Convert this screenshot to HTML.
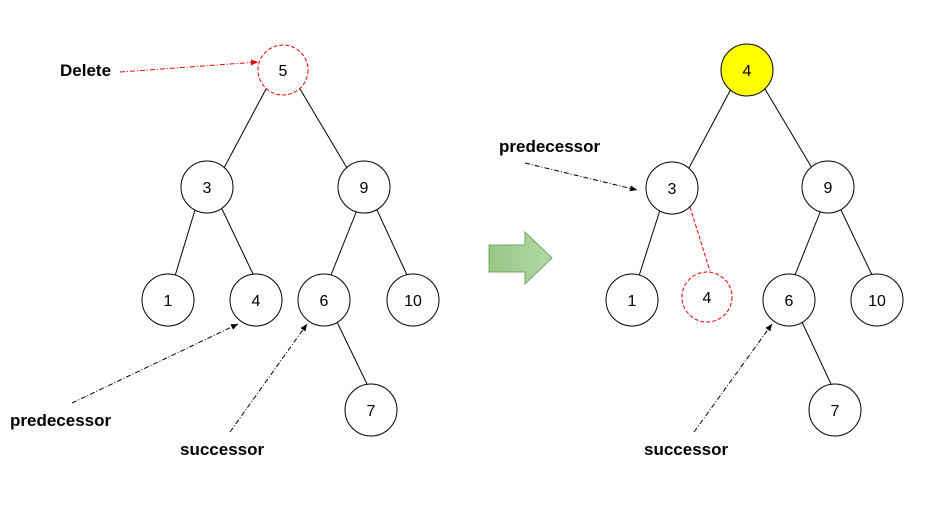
<!DOCTYPE html>
<html><head><meta charset="utf-8"><style>
html,body{margin:0;padding:0;background:#fff;}
svg text{font-family:"Liberation Sans",sans-serif;}
</style></head><body>
<svg width="932" height="508" viewBox="0 0 932 508" xmlns="http://www.w3.org/2000/svg">
<defs>
<marker id="ab" markerWidth="8" markerHeight="8" refX="7" refY="4" orient="auto" markerUnits="userSpaceOnUse"><path d="M0,1 L7,4 L0,7 z" fill="#000"/></marker>
<marker id="ar" markerWidth="8" markerHeight="8" refX="7" refY="4" orient="auto" markerUnits="userSpaceOnUse"><path d="M0,1 L7,4 L0,7 z" fill="#e00"/></marker>
<linearGradient id="g" x1="0" y1="0" x2="1" y2="0"><stop offset="0" stop-color="#97c788"/><stop offset="1" stop-color="#b4d8a6"/></linearGradient>
</defs>
<g stroke="#000" stroke-width="1" fill="none">
<line x1="266" y1="89" x2="224" y2="168"/>
<line x1="300" y1="89" x2="347" y2="168"/>
<line x1="195" y1="210" x2="175" y2="276"/>
<line x1="222" y1="209" x2="253" y2="274"/>
<line x1="357" y1="210" x2="331" y2="275"/>
<line x1="377" y1="210" x2="407" y2="275"/>
<line x1="337" y1="322" x2="367" y2="384"/>
<line x1="731" y1="89" x2="689" y2="168"/>
<line x1="765" y1="89" x2="812" y2="168"/>
<line x1="660" y1="210" x2="639" y2="276"/>
<line x1="821" y1="210" x2="795" y2="275"/>
<line x1="841" y1="210" x2="872" y2="275"/>
<line x1="802" y1="322" x2="831" y2="384"/>
</g>
<line x1="690" y1="207" x2="710" y2="271" stroke="#e00" stroke-dasharray="4,2"/>
<g stroke="#000" fill="#fff">
<circle cx="207" cy="187" r="26"/><circle cx="364" cy="187" r="26"/>
<circle cx="168" cy="300" r="26"/><circle cx="256" cy="300" r="26"/>
<circle cx="324" cy="300" r="26"/><circle cx="413" cy="300" r="26"/>
<circle cx="371" cy="410" r="26"/>
<circle cx="747" cy="70" r="26" fill="#ffff00"/>
<circle cx="672" cy="188" r="26"/><circle cx="828" cy="187" r="26"/>
<circle cx="632" cy="300" r="26"/>
<circle cx="789" cy="300" r="26"/><circle cx="877" cy="300" r="26"/>
<circle cx="835" cy="410" r="26"/>
</g>
<circle cx="283" cy="70" r="25" fill="#fff" stroke="#e00" stroke-dasharray="4,2"/>
<circle cx="707" cy="297" r="25" fill="#fff" stroke="#e00" stroke-dasharray="4,2"/>
<g font-size="16" text-anchor="middle" fill="#000">
<text x="283" y="76">5</text><text x="207" y="193">3</text><text x="364" y="193">9</text>
<text x="168" y="306">1</text><text x="256" y="306">4</text><text x="324" y="306">6</text>
<text x="413" y="306">10</text><text x="371" y="416">7</text>
<text x="747" y="76">4</text><text x="672" y="194">3</text><text x="828" y="193">9</text>
<text x="632" y="306">1</text><text x="707" y="303">4</text><text x="789" y="306">6</text>
<text x="877" y="306">10</text><text x="835" y="416">7</text>
</g>
<g font-size="17" font-weight="bold" fill="#000">
<text x="60" y="76">Delete</text>
<text x="10" y="426">predecessor</text>
<text x="180" y="455">successor</text>
<text x="499" y="152">predecessor</text>
<text x="644" y="455">successor</text>
</g>
<g fill="none" stroke-dasharray="5,2,1,2">
<line x1="120" y1="72" x2="258" y2="62" stroke="#e00" marker-end="url(#ar)"/>
<line x1="72" y1="403" x2="238" y2="324" stroke="#000" marker-end="url(#ab)"/>
<line x1="230" y1="432" x2="307" y2="324" stroke="#000" marker-end="url(#ab)"/>
<line x1="525" y1="163" x2="637" y2="190" stroke="#000" marker-end="url(#ab)"/>
<line x1="694" y1="432" x2="772" y2="324" stroke="#000" marker-end="url(#ab)"/>
</g>
<path d="M489,245 L525,245 L525,232 L552,258 L525,284 L525,272 L489,272 Z" fill="url(#g)" stroke="#6fa85a" stroke-width="1"/>
</svg>
</body></html>
